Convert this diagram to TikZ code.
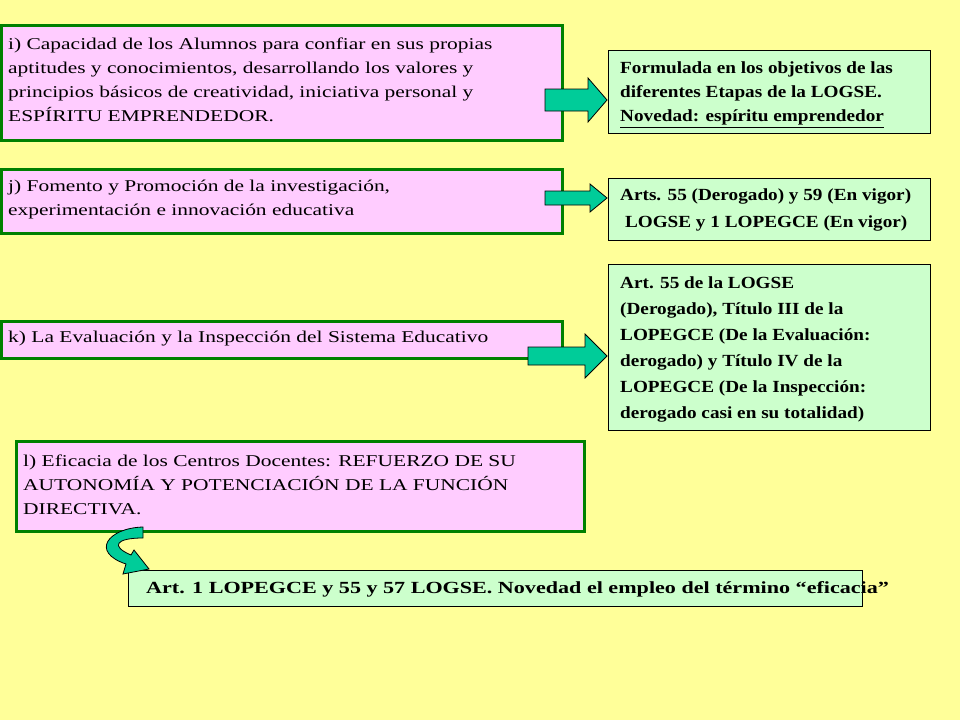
\documentclass[tikz,border=0pt]{standalone}
\usepackage{fontspec}
\setmainfont{Liberation Serif}
\newfontfamily\lfont[FakeStretch=1.3]{Liberation Serif}
\newfontfamily\rfont[FakeStretch=1.13]{Liberation Serif}
\begin{document}
\begin{tikzpicture}[x=1pt,y=-1pt]
\definecolor{bg}{RGB}{255,255,153}
\definecolor{pinkf}{RGB}{255,204,255}
\definecolor{greenf}{RGB}{204,255,204}
\definecolor{bord}{RGB}{0,128,0}
\definecolor{arr}{RGB}{0,204,153}
\tikzset{
 lbox/.style={draw=bord,line width=2.5pt,fill=pinkf,anchor=north west,inner sep=0pt},
 rbox/.style={draw=black,line width=1pt,fill=greenf,anchor=north west,inner sep=0pt},
 ltxt/.style={anchor=north west,align=left,inner sep=0pt,font=\lfont\fontsize{16.5}{24}\selectfont},
 rtxt/.style={anchor=north west,align=left,inner sep=0pt,font=\rfont\fontsize{17}{24}\selectfont\bfseries},
 barrow/.style={draw=black,line width=0.8pt,fill=arr}
}
\fill[bg] (0,0) rectangle (960,720);
\useasboundingbox (0,0) rectangle (960,720);
% left boxes
\node[lbox,minimum width=561,minimum height=115] (i) at (0,24) {};
\node[ltxt] (ti) at (8,38) {i) Capacidad de los Alumnos para confiar en sus propias\\aptitudes y conocimientos, desarrollando los valores y\\principios básicos de creatividad, iniciativa personal y\\ESPÍRITU EMPRENDEDOR.};
\node[lbox,minimum width=561,minimum height=64] (j) at (0,168) {};
\node[ltxt] (tj) at (8,180) {j) Fomento y Promoción de la investigación,\\experimentación e innovación educativa};
\node[lbox,minimum width=561,minimum height=37] (k) at (0,320) {};
\node[ltxt,anchor=west] (tk) at (8,339) {k) La Evaluación y la Inspección del Sistema Educativo};
\node[lbox,minimum width=568,minimum height=90] (l) at (15,440) {};
\node[ltxt] (tl) at (23,455) {l) Eficacia de los Centros Docentes: REFUERZO DE SU\\AUTONOMÍA Y POTENCIACIÓN DE LA FUNCIÓN\\DIRECTIVA.};
% right boxes
\node[rbox,minimum width=322,minimum height=83] (r1) at (608,50) {};
\node[rtxt] (t1) at (620,62) {Formulada en los objetivos de las\\diferentes Etapas de la LOGSE.\\\underline{Novedad: espíritu emprendedor}};
\node[rbox,minimum width=322,minimum height=62] (r2) at (608,178) {};
\node[rtxt,font=\rfont\fontsize{17}{27}\selectfont\bfseries] (t2) at (620,189) {Arts. 55 (Derogado) y 59 (En vigor)\\\ LOGSE y 1 LOPEGCE (En vigor)};
\node[rbox,minimum width=322,minimum height=166] (r3) at (608,264) {};
\node[rtxt,font=\rfont\fontsize{17}{26}\selectfont\bfseries] (t3) at (620,276) {Art. 55 de la LOGSE\\(Derogado), Título III de la\\LOPEGCE (De la Evaluación:\\derogado) y Título IV de la\\LOPEGCE (De la Inspección:\\derogado casi en su totalidad)};
\node[rbox,minimum width=734,minimum height=36] (r4) at (128,570) {};
\node[rtxt,anchor=west,font=\lfont\fontsize{17}{24}\selectfont\bfseries] (t4) at (146,589) {Art. 1 LOPEGCE y 55 y 57 LOGSE. Novedad el empleo del término “eficacia”};
% block arrows
\draw[barrow] (545,89) -- (588,89) -- (588,78) -- (607,100) -- (588,122) -- (588,111) -- (545,111) -- cycle;
\draw[barrow] (545,191) -- (590,191) -- (590,184) -- (607,198) -- (590,212) -- (590,205) -- (545,205) -- cycle;
\draw[barrow] (528,347) -- (585,347) -- (585,334) -- (607,356) -- (585,378) -- (585,365) -- (528,365) -- cycle;
% curved arrow
\draw[barrow] (143,527) .. controls (108,528) and (90,552) .. (126,564) -- (123,574) -- (149,569) -- (134,550) -- (131,555) .. controls (110,546) and (116,538) .. (143,538) -- cycle;
\end{tikzpicture}
\end{document}
